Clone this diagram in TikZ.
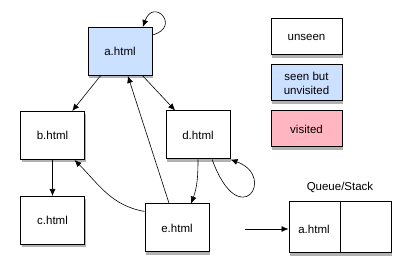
\documentclass[tikz,border=0pt]{standalone}
\usepackage{fontspec}
\setmainfont{Liberation Sans}
\usepackage{tikz}
\usetikzlibrary{shapes, positioning, arrows.meta, shadows}

\definecolor{seenblue}{RGB}{204,224,255}
\definecolor{visitpink}{RGB}{255,182,193}

\begin{document}
\begin{tikzpicture}[
    x=1pt, y=1pt,
    > = {Latex[length=7pt, width=6pt]}, semithick,
    page/.style={rectangle, draw, line width=1pt, fill=white,
        minimum width=64pt, minimum height=48pt,
        font=\fontsize{11.5}{14}\selectfont, align=center,
        drop shadow={shadow xshift=1.2pt, shadow yshift=-3pt, opacity=0.3, fill=black}},
    seen/.style={page, fill=seenblue},
    visited/.style={page, fill=visitpink},
    key/.style={minimum width=71pt, minimum height=36pt}
]
\useasboundingbox (0,0) rectangle (410,278);

% PAGES
\node[seen] (a) at (120,226.5) {a.html};
\node[page] (b) at (52.5,142.5) {b.html};
\node[page, below=36pt of b] (c) {c.html};
\node[page] (d) at (198,143) {d.html};
\node[page] (e) at (177,50) {e.html};

% LINKS
\draw[->] (a.27) .. controls +(15:30) and +(70:32) .. (a.47);
\draw[->] (a) -- (b);
\draw[->] (a) -- (d);
\draw[->] (b) -- (c);
\draw[->] (e) -- (a);
\draw[->] (e.153) to[out=170, in=-45] (b.-48);
\draw[->] (d.south) to[out=-90, in=70] (e.60);
\draw[->] (d.-60) .. controls +(-70:80) and +(-20:50) .. (d.south east);

% LEGEND
\node[page, key] (unseen) at (306.5,241) {unseen};
\node[seen, key, below=9pt of unseen] (seenkey) {seen but\\unvisited};
\node[visited, key, below=9pt of seenkey] (visitkey) {visited};

% QUEUE / STACK
\node[page, minimum width=102pt, minimum height=51pt,
    label={[label distance=5pt, font=\fontsize{11.5}{14}\selectfont]above:Queue/Stack}] (queue) at (340,50.5) {};
\draw[line width=1pt] (queue.north) -- (queue.south);
\node[font=\fontsize{11.5}{14}\selectfont] (qa) at ([xshift=-26pt, yshift=-2pt]queue.center) {a.html};
\coordinate (qin) at (245,49);
\draw[->] (qin) -- (qin -| queue.west);
\end{tikzpicture}
\end{document}
